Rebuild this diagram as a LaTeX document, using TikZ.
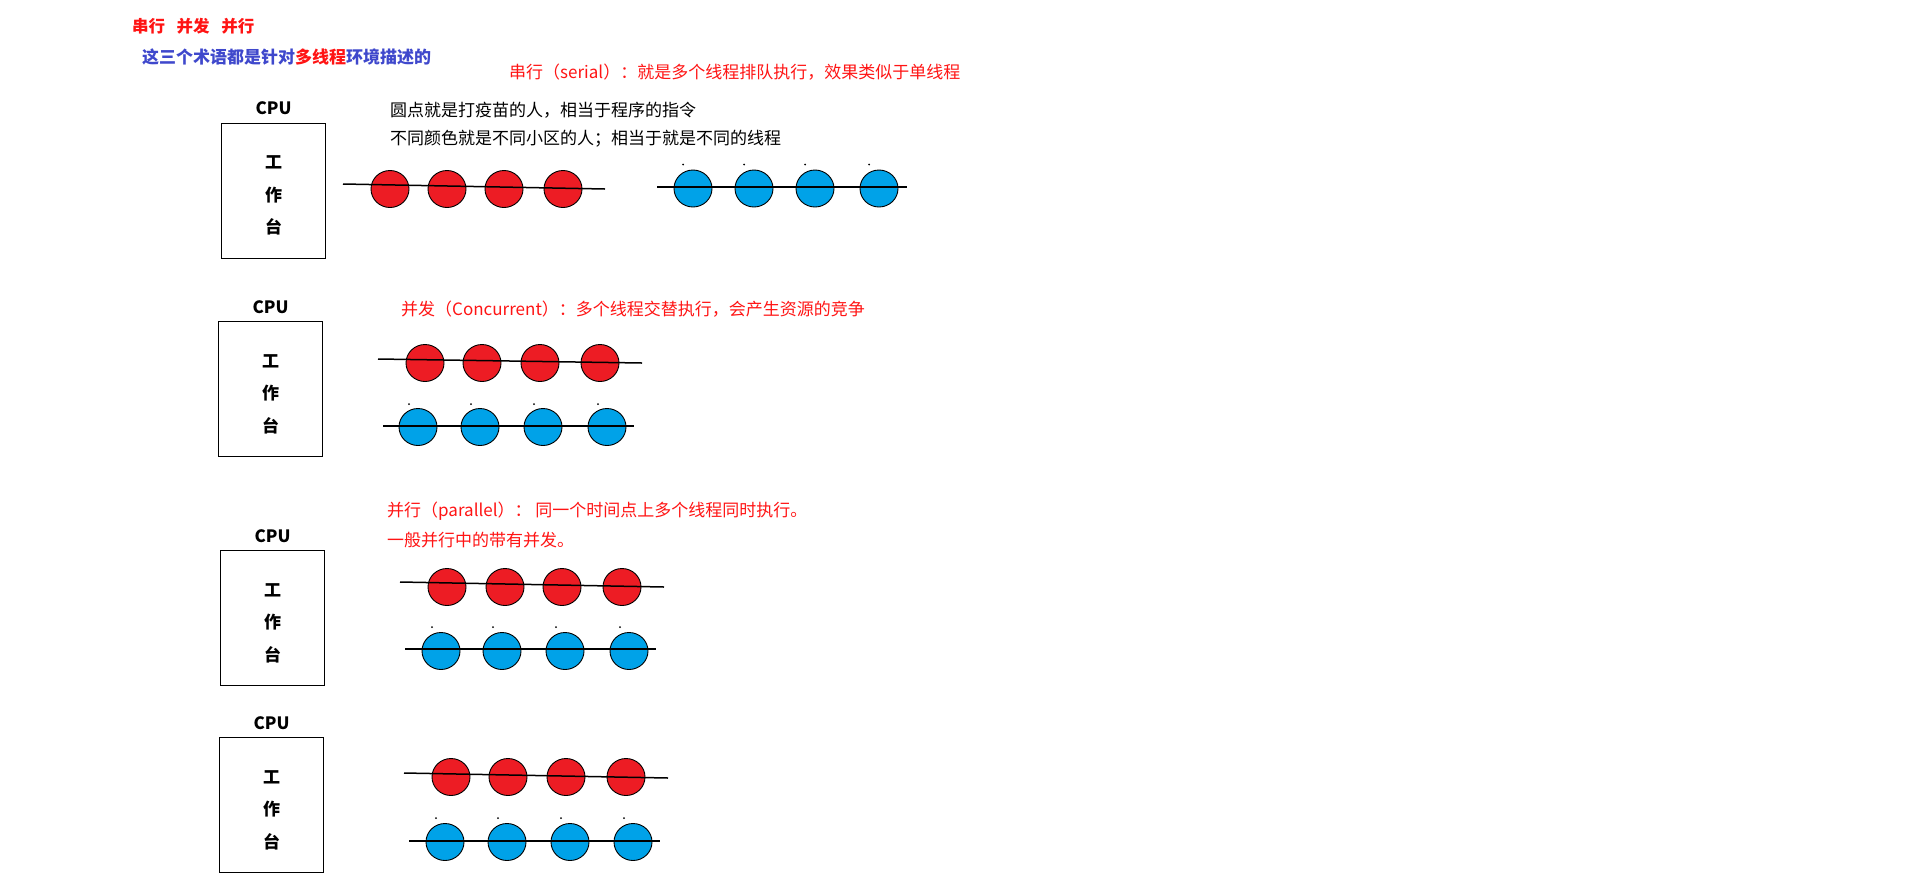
\documentclass[tikz,border=0pt]{standalone}
\usepackage{fontspec}
\setmainfont{Noto Sans CJK SC}
\usepackage{tikz}
\usetikzlibrary{positioning,shapes.geometric}
\usepackage{xcolor}
\definecolor{PaintRed}{RGB}{237,28,36}
\definecolor{PaintBlue}{RGB}{0,162,232}
\definecolor{TextRed}{RGB}{255,20,20}
\definecolor{TextBlue}{RGB}{63,72,204}
\tikzset{
  cpubox/.style={draw=black,line width=1pt,minimum width=104pt,
    minimum height=135pt,align=center,text height=88pt,text depth=2pt,
    font=\fontsize{17}{32.5}\selectfont\bfseries},
  cpulabel/.style={inner sep=0pt,font=\fontsize{17}{20}\selectfont\bfseries},
  redcircle/.style={draw=black,ellipse,fill=PaintRed,line width=0.9pt,
    minimum width=38pt,minimum height=37pt,inner sep=0pt},
  bluecircle/.style={draw=black,ellipse,fill=PaintBlue,line width=0.9pt,
    minimum width=38pt,minimum height=37pt,inner sep=0pt},
  queueline/.style={draw=black,line width=1.5pt},
  dotmark/.style={circle,fill=black,inner sep=0pt,minimum size=2pt},
  notetext/.style={anchor=west,inner sep=0pt,font=\fontsize{17}{20}\selectfont},
}

\begin{document}
\begin{tikzpicture}[x=1pt,y=-1pt]
    \useasboundingbox (0,0) rectangle (1914,887);

    % headings
    \node[notetext,text=TextRed,font=\fontsize{16.5}{20}\selectfont\bfseries]
        (title) at (132,26) {串行\hspace{0.7em}并发\hspace{0.7em}并行};
    \node[notetext,text=TextBlue,font=\fontsize{17}{20}\selectfont\bfseries]
        (terms) at (142,57) {这三个术语都是针对\textcolor{TextRed}{多线程}环境描述的};

    % serial
    \node[cpubox] (box1) at (273.5,190.5) {工\\作\\台};
    \node[cpulabel,above=7.5pt of box1] (cpu1) {CPU};
    \node[notetext,text=TextRed] (serial) at (509,72)
        {串行（serial）：就是多个线程排队执行，效果类似于单线程};
    \node[notetext] (note1) at (390,110) {圆点就是打疫苗的人，相当于程序的指令};
    \node[notetext] (note2) at (390,139) {不同颜色就是不同小区的人；相当于就是不同的线程};
    \foreach \x [count=\i] in {390,447,504,563}
        \node[redcircle] (s1r\i) at (\x,189) {};
    \foreach \x [count=\i] in {693,754,815,879}
        \node[bluecircle] (s1b\i) at (\x,188.5) {};
    \foreach \i in {1,...,4}
        \node[dotmark] (s1d\i) at ([shift={(-10,-24)}]s1b\i.center) {};
    \coordinate (s1ra) at (343,184);
    \coordinate (s1rb) at (605,189);
    \coordinate (s1ba) at (657,187);
    \coordinate (s1bb) at (907,187);
    \draw[queueline] (s1ra) -- (s1rb);
    \draw[queueline] (s1ba) -- (s1bb);

    % concurrent
    \node[cpubox] (box2) at (270.5,389) {工\\作\\台};
    \node[cpulabel,above=7.5pt of box2] (cpu2) {CPU};
    \node[notetext,text=TextRed] (concurrent) at (401,309)
        {并发（Concurrent）：多个线程交替执行，会产生资源的竞争};
    \foreach \x [count=\i] in {425,482,540,600}
        \node[redcircle] (s2r\i) at (\x,363) {};
    \foreach \x [count=\i] in {418,480,543,607}
        \node[bluecircle] (s2b\i) at (\x,427) {};
    \foreach \i in {1,...,4}
        \node[dotmark] (s2d\i) at ([shift={(-9,-23)}]s2b\i.center) {};
    \coordinate (s2ra) at (378,359);
    \coordinate (s2rb) at (642,363);
    \coordinate (s2ba) at (383,426);
    \coordinate (s2bb) at (634,426);
    \draw[queueline] (s2ra) -- (s2rb);
    \draw[queueline] (s2ba) -- (s2bb);

    % parallel
    \node[cpubox] (box3) at (272.5,618) {工\\作\\台};
    \node[cpulabel,above=7.5pt of box3] (cpu3) {CPU};
    \node[notetext,text=TextRed] (parallel) at (387,511)
        {并行（parallel）： 同一个时间点上多个线程同时执行。};
    \node[notetext,text=TextRed] (parallel2) at (387,540) {一般并行中的带有并发。};
    \foreach \x [count=\i] in {447,505,562,622}
        \node[redcircle] (s3r\i) at (\x,587) {};
    \foreach \x [count=\i] in {441,502,565,629}
        \node[bluecircle] (s3b\i) at (\x,651) {};
    \foreach \i in {1,...,4}
        \node[dotmark] (s3d\i) at ([shift={(-9,-24)}]s3b\i.center) {};
    \coordinate (s3ra) at (400,582);
    \coordinate (s3rb) at (664,587);
    \coordinate (s3ba) at (405,649);
    \coordinate (s3bb) at (656,649);
    \draw[queueline] (s3ra) -- (s3rb);
    \draw[queueline] (s3ba) -- (s3bb);

    \node[cpubox] (box4) at (271.5,805) {工\\作\\台};
    \node[cpulabel,above=7.5pt of box4] (cpu4) {CPU};
    \foreach \x [count=\i] in {451,508,566,626}
        \node[redcircle] (s4r\i) at (\x,777) {};
    \foreach \x [count=\i] in {445,507,570,633}
        \node[bluecircle] (s4b\i) at (\x,842) {};
    \foreach \i in {1,...,4}
        \node[dotmark] (s4d\i) at ([shift={(-9,-24)}]s4b\i.center) {};
    \coordinate (s4ra) at (404,773);
    \coordinate (s4rb) at (668,778);
    \coordinate (s4ba) at (409,841);
    \coordinate (s4bb) at (660,841);
    \draw[queueline] (s4ra) -- (s4rb);
    \draw[queueline] (s4ba) -- (s4bb);
\end{tikzpicture}
\end{document}
